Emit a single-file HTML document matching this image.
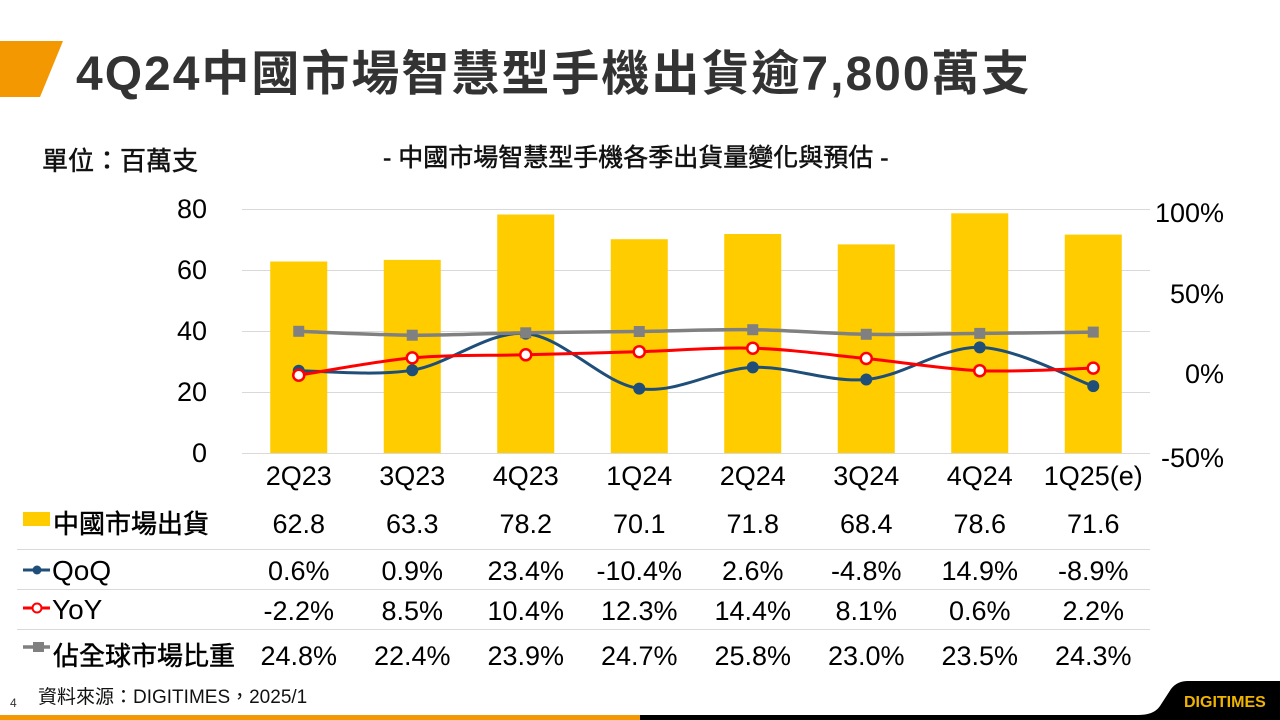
<!DOCTYPE html>
<html><head><meta charset="utf-8"><style>
html,body{margin:0;padding:0;background:#fff;}
svg{display:block;}
text{font-family:"Liberation Sans","Noto Sans CJK TC",sans-serif;}
</style></head><body>
<svg width="1280" height="720" viewBox="0 0 1280 720" xmlns="http://www.w3.org/2000/svg">
<rect width="1280" height="720" fill="#fff"/>
<!-- header -->
<polygon points="0,41 63,41 40,97 0,97" fill="#F39800"/>
<text x="76" y="90" font-size="48" font-weight="bold" fill="#333" letter-spacing="2">4Q24中國市場智慧型手機出貨逾7,800萬支</text>
<text x="42" y="170" font-size="26" fill="#111" stroke="#111" stroke-width="0.5">單位：百萬支</text>
<text x="383" y="166" font-size="25" fill="#111" stroke="#111" stroke-width="0.5">- 中國市場智慧型手機各季出貨量變化與預估 -</text>

<!-- gridlines -->
<g stroke="#d9d9d9" stroke-width="1">
<line x1="242" y1="209.5" x2="1150" y2="209.5"/>
<line x1="242" y1="270.5" x2="1150" y2="270.5"/>
<line x1="242" y1="331.5" x2="1150" y2="331.5"/>
<line x1="242" y1="392.5" x2="1150" y2="392.5"/>
<line x1="242" y1="453.5" x2="1150" y2="453.5"/>
</g>

<!-- left axis -->
<g font-size="27" fill="#000" text-anchor="end">
<text x="207" y="218">80</text>
<text x="207" y="279">60</text>
<text x="207" y="340">40</text>
<text x="207" y="401">20</text>
<text x="207" y="462">0</text>
</g>
<!-- right axis -->
<g font-size="27" fill="#000" text-anchor="end">
<text x="1224" y="222">100%</text>
<text x="1224" y="303">50%</text>
<text x="1224" y="383">0%</text>
<text x="1224" y="467">-50%</text>
</g>

<!-- bars -->
<g fill="#FFCC00">
<rect x="270.25" y="261.5" width="57" height="191.5"/>
<rect x="383.75" y="259.9" width="57" height="193.1"/>
<rect x="497.25" y="214.5" width="57" height="238.5"/>
<rect x="610.75" y="239.2" width="57" height="213.8"/>
<rect x="724.25" y="234.0" width="57" height="219.0"/>
<rect x="837.75" y="244.4" width="57" height="208.6"/>
<rect x="951.25" y="213.3" width="57" height="239.7"/>
<rect x="1064.75" y="234.6" width="57" height="218.4"/>
</g>

<!-- QoQ line -->
<path fill="none" stroke="#1F4E79" stroke-width="3" d="M298.75,370.7 C317.67,370.62 374.42,376.38 412.25,370.2 C450.08,364.02 487.92,330.53 525.75,333.6 C563.58,336.67 601.42,382.97 639.25,388.6 C677.08,394.23 714.92,368.92 752.75,367.4 C790.58,365.88 828.42,382.83 866.25,379.5 C904.08,376.17 941.92,346.3 979.75,347.4 C1017.58,348.5 1074.33,379.65 1093.25,386.1"/>
<g fill="#1F4E79">
<circle cx="298.75" cy="370.7" r="6"/>
<circle cx="412.25" cy="370.2" r="6"/>
<circle cx="525.75" cy="333.6" r="6"/>
<circle cx="639.25" cy="388.6" r="6"/>
<circle cx="752.75" cy="367.4" r="6"/>
<circle cx="866.25" cy="379.5" r="6"/>
<circle cx="979.75" cy="347.4" r="6"/>
<circle cx="1093.25" cy="386.1" r="6"/>
</g>

<!-- YoY line -->
<path fill="none" stroke="#FF0000" stroke-width="3" d="M298.75,375.2 C317.67,372.32 374.42,361.3 412.25,357.9 C450.08,354.5 487.92,355.83 525.75,354.8 C563.58,353.77 601.42,352.8 639.25,351.7 C677.08,350.6 714.92,347.07 752.75,348.2 C790.58,349.33 828.42,354.75 866.25,358.5 C904.08,362.25 941.92,369.1 979.75,370.7 C1017.58,372.3 1074.33,368.53 1093.25,368.1"/>
<g fill="#fff" stroke="#FF0000" stroke-width="2.5">
<circle cx="298.75" cy="375.2" r="5.5"/>
<circle cx="412.25" cy="357.9" r="5.5"/>
<circle cx="525.75" cy="354.8" r="5.5"/>
<circle cx="639.25" cy="351.7" r="5.5"/>
<circle cx="752.75" cy="348.2" r="5.5"/>
<circle cx="866.25" cy="358.5" r="5.5"/>
<circle cx="979.75" cy="370.7" r="5.5"/>
<circle cx="1093.25" cy="368.1" r="5.5"/>
</g>

<!-- Share line -->
<path fill="none" stroke="#808080" stroke-width="3.5" d="M298.75,331.3 C317.67,331.95 374.42,334.95 412.25,335.2 C450.08,335.45 487.92,333.42 525.75,332.8 C563.58,332.18 601.42,332.02 639.25,331.5 C677.08,330.98 714.92,329.23 752.75,329.7 C790.58,330.17 828.42,333.68 866.25,334.3 C904.08,334.92 941.92,333.77 979.75,333.4 C1017.58,333.03 1074.33,332.32 1093.25,332.1"/>
<g fill="#808080">
<rect x="293.25" y="325.8" width="11" height="11"/>
<rect x="406.75" y="329.7" width="11" height="11"/>
<rect x="520.25" y="327.3" width="11" height="11"/>
<rect x="633.75" y="326.0" width="11" height="11"/>
<rect x="747.25" y="324.2" width="11" height="11"/>
<rect x="860.75" y="328.8" width="11" height="11"/>
<rect x="974.25" y="327.9" width="11" height="11"/>
<rect x="1087.75" y="326.6" width="11" height="11"/>
</g>

<!-- category labels -->
<g font-size="27" fill="#000" text-anchor="middle">
<text x="298.75" y="485">2Q23</text>
<text x="412.25" y="485">3Q23</text>
<text x="525.75" y="485">4Q23</text>
<text x="639.25" y="485">1Q24</text>
<text x="752.75" y="485">2Q24</text>
<text x="866.25" y="485">3Q24</text>
<text x="979.75" y="485">4Q24</text>
<text x="1093.25" y="485">1Q25(e)</text>
</g>

<!-- table separators -->
<g stroke="#d9d9d9" stroke-width="1">
<line x1="17" y1="549.5" x2="1150" y2="549.5"/>
<line x1="17" y1="589.5" x2="1150" y2="589.5"/>
<line x1="17" y1="629.5" x2="1150" y2="629.5"/>
</g>

<!-- legend keys -->
<rect x="23" y="512" width="27" height="14" fill="#FFCC00"/>
<line x1="23" y1="570" x2="50" y2="570" stroke="#1F4E79" stroke-width="3"/>
<circle cx="37" cy="570" r="4.5" fill="#1F4E79"/>
<line x1="23" y1="608" x2="50" y2="608" stroke="#FF0000" stroke-width="3"/>
<circle cx="37" cy="608" r="4.5" fill="#fff" stroke="#FF0000" stroke-width="2"/>
<line x1="23" y1="647" x2="50" y2="647" stroke="#808080" stroke-width="3.5"/>
<rect x="33" y="642" width="11" height="10" fill="#808080"/>

<g font-size="26" fill="#000" stroke="#000" stroke-width="0.5">
<text x="53" y="533">中國市場出貨</text>
<text x="53" y="665">佔全球市場比重</text>
</g>
<g font-size="28" fill="#000">
<text x="52" y="580">QoQ</text>
<text x="52" y="619">YoY</text>
</g>

<!-- table values -->
<g font-size="27" fill="#000" text-anchor="middle">
<text x="298.75" y="533">62.8</text>
<text x="412.25" y="533">63.3</text>
<text x="525.75" y="533">78.2</text>
<text x="639.25" y="533">70.1</text>
<text x="752.75" y="533">71.8</text>
<text x="866.25" y="533">68.4</text>
<text x="979.75" y="533">78.6</text>
<text x="1093.25" y="533">71.6</text>

<text x="298.75" y="580">0.6%</text>
<text x="412.25" y="580">0.9%</text>
<text x="525.75" y="580">23.4%</text>
<text x="639.25" y="580">-10.4%</text>
<text x="752.75" y="580">2.6%</text>
<text x="866.25" y="580">-4.8%</text>
<text x="979.75" y="580">14.9%</text>
<text x="1093.25" y="580">-8.9%</text>

<text x="298.75" y="620">-2.2%</text>
<text x="412.25" y="620">8.5%</text>
<text x="525.75" y="620">10.4%</text>
<text x="639.25" y="620">12.3%</text>
<text x="752.75" y="620">14.4%</text>
<text x="866.25" y="620">8.1%</text>
<text x="979.75" y="620">0.6%</text>
<text x="1093.25" y="620">2.2%</text>

<text x="298.75" y="665">24.8%</text>
<text x="412.25" y="665">22.4%</text>
<text x="525.75" y="665">23.9%</text>
<text x="639.25" y="665">24.7%</text>
<text x="752.75" y="665">25.8%</text>
<text x="866.25" y="665">23.0%</text>
<text x="979.75" y="665">23.5%</text>
<text x="1093.25" y="665">24.3%</text>
</g>

<!-- footer -->
<text x="10" y="707" font-size="12" fill="#333">4</text>
<text x="38" y="703" font-size="19" fill="#111">資料來源：DIGITIMES，2025/1</text>
<rect x="0" y="715" width="640" height="5" fill="#F39800"/>
<rect x="640" y="715" width="640" height="5" fill="#000"/>
<path d="M1138,715 Q1154,715 1160,706 L1171,689 Q1177,681 1188,681 L1280,681 L1280,720 L1138,720 Z" fill="#000"/>
<text x="1184" y="707" font-size="16" font-weight="bold" fill="#F0B400">DIGITIMES</text>
</svg>
</body></html>
